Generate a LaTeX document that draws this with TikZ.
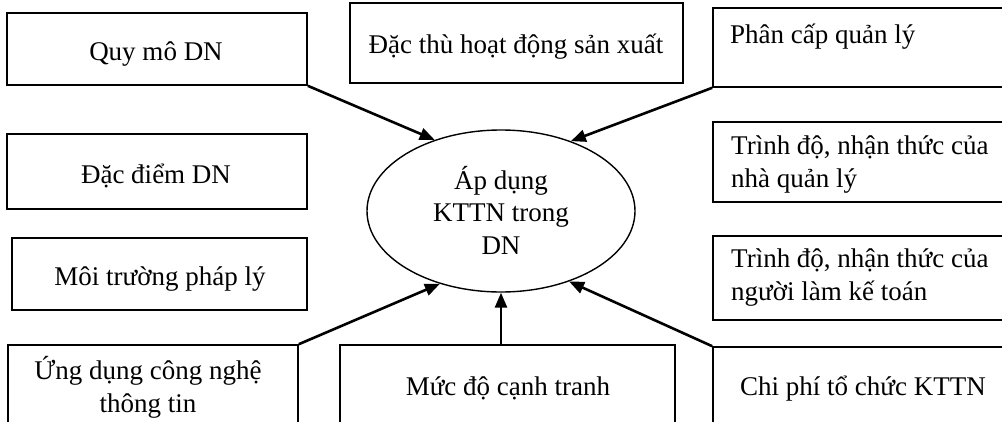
\documentclass[tikz,border=0pt]{standalone}
\usepackage{fontspec}
\setmainfont{Liberation Serif}
\usetikzlibrary{arrows.meta,shapes.geometric}
\begin{document}
\begin{tikzpicture}[x=1pt,y=-1pt,
  box/.style={draw, rectangle, line width=1.6pt, inner sep=0pt},
  txt/.style={font=\fontsize{27}{32.5}\selectfont, inner sep=0pt, anchor=base, align=center},
  txtl/.style={txt, anchor=base west, align=left},
  link/.style={line width=2.6pt, -{Triangle[length=15pt,width=12pt]}},
]
% canvas
\fill[white] (0,0) rectangle (1002,421);
\useasboundingbox (0,0) rectangle (1002,421);
\clip (0,0) rectangle (1002,421);

% central ellipse and its caption (multi-line captions are anchored at their last baseline)
\node[draw, ellipse, line width=1.4pt, minimum width=268pt, minimum height=162pt,
      inner sep=0pt] (app) at (501,211) {};
\node[txt] (tapp) at (501,254) {Áp dụng\\KTTN trong\\DN};

% factor boxes
\node[box, minimum width=300pt, minimum height=72pt] (quymo)     at (157,49)    {};
\node[box, minimum width=333pt, minimum height=80pt] (dacthu)    at (516.5,43)  {};
\node[box, minimum width=300pt, minimum height=79pt] (phancap)   at (863,47.5)  {};
\node[box, minimum width=300pt, minimum height=75pt] (dacdiem)   at (157,171.5) {};
\node[box, minimum width=300pt, minimum height=80pt] (trinhdoql) at (863,162)   {};
\node[box, minimum width=295pt, minimum height=72pt] (moitruong) at (159.5,274) {};
\node[box, minimum width=300pt, minimum height=84pt] (trinhdokt) at (863,278)   {};
\node[box, minimum width=290pt, minimum height=95pt] (ungdung)   at (153,392.5) {};
\node[box, minimum width=335pt, minimum height=95pt] (mucdo)     at (507.5,392.5) {};
\node[box, minimum width=300pt, minimum height=93pt] (chiphi)    at (863,393.5) {};

% box texts
\node[txt]  (tquymo)     at (156,60)   {Quy mô DN};
\node[txt]  (tdacthu)    at (516,53)   {Đặc thù hoạt động sản xuất};
\node[txtl] (tphancap)   at (730,43)   {Phân cấp quản lý};
\node[txt]  (tdacdiem)   at (156,183)  {Đặc điểm DN};
\node[txtl] (ttrinhdoql) at (731,187)  {Trình độ, nhận thức của\\nhà quản lý};
\node[txt]  (tmoitruong) at (160,285)  {Môi trường pháp lý};
\node[txtl] (ttrinhdokt) at (731,300)  {Trình độ, nhận thức của\\người làm kế toán};
\node[txt]  (tungdung)   at (148,412)  {Ứng dụng công nghệ\\thông tin};
\node[txt]  (tmucdo)     at (508,395)  {Mức độ cạnh tranh};
\node[txt]  (tchiphi)    at (863,395)  {Chi phí tổ chức KTTN};

% influences
\draw[link] (quymo.south east)  -- (app.133);
\draw[link] (phancap.south west) -- (app.45);
\draw[link] (ungdung.north east) -- (app.230);
\draw[link] (mucdo.north -| app.south) -- (app.south);
\draw[link] (chiphi.north west)  -- (app.314);
\end{tikzpicture}
\end{document}
